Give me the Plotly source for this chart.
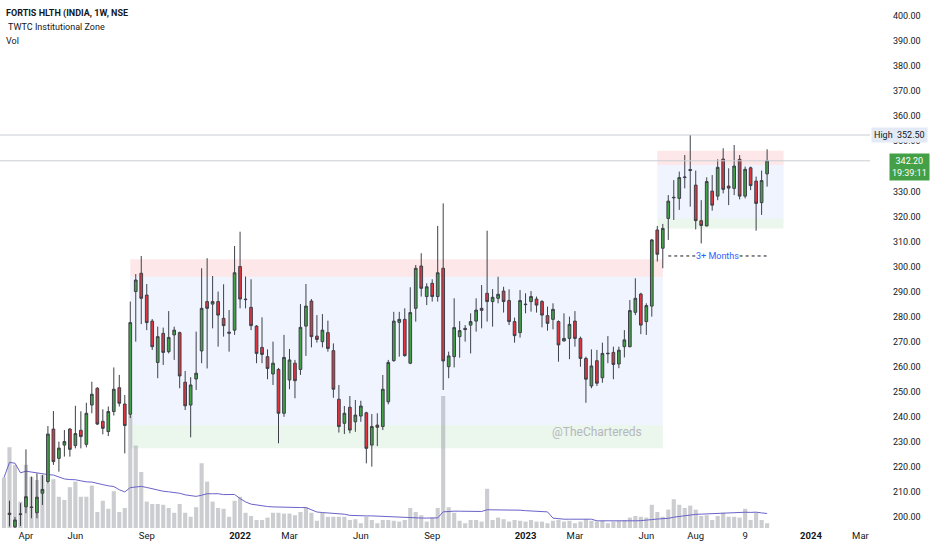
import plotly.graph_objects as go
import pandas as pd

# ---------------- data (weekly candles, FORTIS HLTH, NSE) ----------------
first_week = "2021-03-15"
open_ = [201.5, 196.1, 201.0, 204.1, 204.0, 201.7, 209.5, 214.1, 235.1, 223.4,
         228.7, 235.1, 228.5, 234.6, 229.0, 244.7, 251.4, 238.2, 234.1, 242.1,
         251.6, 245.1, 241.0, 290.0, 297.3, 288.6, 278.2, 261.7, 273.3, 266.0,
         272.7, 273.6, 253.8, 244.7, 255.1, 266.3, 286.0, 285.0, 286.0, 279.3,
         273.8, 274.6, 300.0, 287.0, 283.7, 276.2, 267.7, 264.0, 257.1, 258.9,
         241.4, 254.7, 261.4, 258.9, 276.2, 286.2, 272.2, 270.0, 273.6, 266.4,
         247.0, 237.4, 243.8, 238.0, 240.3, 241.6, 228.7, 236.7, 236.1, 246.0,
         262.4, 277.7, 278.9, 261.4, 283.3, 300.2, 288.0, 293.3, 288.0, 299.3,
         260.0, 264.0, 272.0, 275.3, 276.6, 278.2, 283.3, 289.3, 286.0, 287.3,
         290.2, 286.4, 278.0, 273.6, 285.0, 286.0, 287.0, 286.0, 280.4, 278.9,
         278.0, 270.3, 271.3, 278.2, 271.3, 263.3, 252.3, 262.4, 255.6, 265.4,
         265.7, 261.1, 268.0, 268.0, 281.7, 289.0, 278.0, 284.2, 314.6, 307.3,
         319.2, 327.4, 327.2, 335.5, 338.3, 332.5, 318.3, 316.2, 330.1, 328.1,
         342.9, 332.1, 331.2, 342.8, 328.1, 339.4, 334.1, 325.5, 337.0]
high = [206.5, 200.0, 205.5, 227.0, 216.1, 217.4, 216.8, 236.3, 242.3, 230.1,
        234.7, 235.5, 244.4, 242.2, 245.6, 254.0, 251.8, 243.0, 244.1, 259.7,
        256.7, 248.7, 286.0, 297.0, 304.2, 293.0, 279.0, 276.0, 275.6, 282.2,
        276.0, 274.0, 258.3, 255.8, 274.0, 299.3, 303.3, 296.2, 290.0, 292.9,
        282.6, 308.2, 313.9, 296.0, 294.9, 276.6, 279.7, 266.9, 270.0, 259.5,
        272.7, 267.1, 262.7, 285.0, 293.0, 287.0, 280.6, 281.0, 278.4, 269.3,
        252.7, 244.3, 248.3, 246.7, 246.4, 242.0, 241.1, 241.4, 256.7, 262.7,
        281.9, 281.9, 283.3, 291.7, 300.6, 305.3, 293.3, 294.9, 316.2, 325.2,
        266.0, 287.3, 278.2, 276.6, 281.3, 287.3, 292.6, 314.3, 291.0, 295.9,
        291.9, 290.9, 279.6, 290.6, 289.3, 290.2, 288.0, 286.6, 284.0, 285.3,
        278.5, 281.3, 280.0, 282.2, 272.0, 264.0, 266.9, 266.7, 269.6, 272.2,
        268.0, 268.0, 274.6, 286.6, 295.3, 289.5, 285.3, 311.0, 316.2, 317.0,
        328.5, 334.5, 337.9, 344.5, 352.5, 338.3, 326.5, 335.6, 336.5, 342.8,
        347.2, 339.2, 348.5, 344.5, 339.9, 339.9, 335.9, 338.3, 346.8]
low = [196.2, 195.5, 196.4, 201.5, 199.5, 199.5, 204.8, 213.4, 220.8, 218.1,
       224.1, 224.1, 227.4, 227.4, 227.8, 241.4, 236.7, 233.0, 232.3, 240.5,
       244.1, 225.4, 239.5, 270.0, 277.0, 274.6, 266.7, 255.4, 260.7, 265.3,
       262.7, 251.4, 242.7, 231.8, 250.7, 261.4, 259.3, 275.3, 268.0, 272.0,
       266.0, 272.7, 283.3, 283.3, 274.6, 261.4, 261.4, 255.0, 252.7, 229.4,
       240.0, 251.0, 247.4, 256.7, 264.3, 267.7, 269.6, 267.7, 266.0, 247.6,
       233.7, 233.1, 233.4, 234.0, 238.0, 221.4, 220.1, 228.3, 234.7, 245.0,
       262.0, 264.0, 264.0, 261.0, 278.0, 288.0, 284.6, 286.0, 286.0, 250.7,
       255.4, 259.7, 263.6, 270.0, 265.3, 274.0, 275.3, 278.0, 276.0, 285.3,
       281.6, 276.6, 269.6, 271.6, 281.3, 282.0, 281.6, 275.7, 274.4, 274.9,
       262.0, 270.0, 263.0, 268.0, 260.0, 245.6, 251.4, 252.3, 253.6, 261.4,
       255.0, 259.4, 263.7, 267.7, 280.6, 273.0, 272.7, 280.0, 302.0, 299.3,
       310.6, 318.6, 322.6, 331.2, 323.9, 314.8, 309.2, 316.0, 322.3, 326.5,
       329.2, 324.5, 328.5, 326.8, 327.2, 330.5, 314.3, 320.6, 331.9]
close = [201.0, 198.8, 201.2, 208.1, 203.8, 207.9, 211.0, 233.1, 222.1, 227.5,
         230.1, 227.0, 233.3, 232.1, 241.4, 249.0, 237.1, 235.4, 242.1, 251.0,
         245.4, 236.5, 277.6, 294.6, 287.3, 277.6, 268.0, 272.0, 265.7, 271.7,
         274.6, 256.3, 244.4, 252.7, 257.4, 283.3, 283.3, 286.0, 280.6, 276.4,
         273.4, 297.5, 287.0, 286.8, 276.4, 265.3, 264.9, 259.3, 261.4, 241.4,
         263.7, 262.7, 254.4, 275.7, 284.2, 272.0, 270.9, 274.6, 267.3, 251.0,
         236.1, 241.4, 234.7, 240.7, 244.3, 227.4, 236.1, 235.8, 251.0, 261.7,
         278.2, 278.9, 264.4, 281.6, 299.3, 291.3, 291.9, 288.0, 297.5, 262.3,
         264.3, 275.6, 274.4, 274.8, 278.0, 282.6, 282.5, 286.0, 287.7, 288.9,
         286.0, 278.0, 272.4, 286.4, 284.8, 288.0, 284.6, 280.6, 277.3, 282.9,
         268.7, 271.3, 276.9, 271.3, 263.3, 255.0, 260.3, 253.4, 265.3, 265.2,
         260.9, 266.6, 270.7, 282.4, 287.3, 276.6, 284.4, 310.6, 304.9, 315.2,
         326.1, 327.6, 335.5, 335.7, 338.7, 318.3, 316.4, 333.9, 324.5, 339.6,
         330.8, 331.3, 340.1, 328.1, 338.8, 332.3, 325.2, 334.3, 342.2]

# weekly volume (millions), starting one week before the first visible candle
vol_first_week = "2021-03-08"
volume = [6.3, 10.1, 7.9, 3.3, 7.9, 6.4, 6.0, 6.6, 5.6, 6.1,
          3.9, 3.5, 5.1, 5.8, 3.9, 3.9, 5.3, 2.0, 3.4, 2.4,
          4.6, 2.0, 2.5, 14.1, 10.3, 7.0, 3.3, 3.0, 3.0, 2.9,
          2.5, 1.9, 3.0, 1.9, 1.4, 2.6, 8.1, 5.8, 3.3, 2.5,
          2.4, 1.4, 3.4, 3.9, 1.9, 1.5, 1.0, 1.0, 1.3, 1.9,
          1.9, 1.8, 1.8, 1.6, 2.0, 2.6, 1.9, 0.9, 1.9, 1.4,
          1.4, 1.4, 1.4, 1.0, 1.1, 0.6, 1.4, 1.0, 0.6, 1.0,
          1.0, 0.9, 0.8, 1.0, 2.5, 2.0, 1.6, 0.8, 1.3, 2.5,
          16.5, 2.6, 1.9, 0.9, 0.6, 1.0, 1.0, 0.8, 4.9, 1.0,
          1.3, 1.1, 0.8, 1.0, 0.9, 0.8, 1.0, 0.8, 0.8, 0.6,
          0.9, 1.0, 0.8, 0.9, 0.6, 0.8, 1.1, 0.9, 0.8, 0.9,
          0.6, 0.8, 0.9, 1.0, 1.3, 1.5, 1.4, 1.3, 2.9, 2.0,
          1.4, 2.3, 3.6, 2.9, 2.5, 2.8, 2.3, 1.5, 1.6, 1.0,
          1.5, 1.9, 1.4, 1.4, 1.3, 2.4, 1.0, 1.9, 1.0, 0.6]

# x-axis tick labels
tick_dates = ["2021-04-05", "2021-06-07", "2021-09-06", "2022-01-03", "2022-03-07",
              "2022-06-06", "2022-09-05", "2023-01-02", "2023-03-06", "2023-06-05",
              "2023-08-07", "2023-10-09", "2024-01-01", "2024-03-04"]
tick_text = ["Apr", "Jun", "Sep", "<b>2022</b>", "Mar", "Jun", "Sep", "<b>2023</b>",
             "Mar", "Jun", "Aug", "9", "<b>2024</b>", "Mar"]
price_ticks = list(range(200, 401, 10))
hidden_price_ticks = [340]   # covered by the last-price label in the reference

# institutional zones: (start, end, supply_top, supply_bottom, demand_top, demand_bottom)
zones = [
    ("2021-08-16", "2023-06-26", 302.9, 295.9, 236.7, 227.4),
    ("2023-06-19", "2023-11-27", 346.2, 340.5, 319.2, 315.2),
]
period_high = 352.5
last_price = 342.2

# ---------------- figure ----------------
FONT = "Roboto, Liberation Sans, sans-serif"
GREEN = "#43a047"
RED = "#e0343f"
EDGE = "#3d4048"

dates = pd.date_range(first_week, periods=len(open_), freq="7D")
vol_dates = pd.date_range(vol_first_week, periods=len(volume), freq="7D")
vol_ma = pd.Series(volume).rolling(20, min_periods=1).mean()

fig = go.Figure()
fig.add_trace(go.Bar(x=vol_dates, y=volume, yaxis="y",
                     marker=dict(color="rgba(168,171,178,0.6)", line=dict(width=0)),
                     hoverinfo="skip"))
fig.add_trace(go.Scatter(x=vol_dates, y=vol_ma, yaxis="y", mode="lines",
                         line=dict(color="#6a62c8", width=1), hoverinfo="skip"))
fig.add_trace(go.Candlestick(
    x=dates, open=open_, high=high, low=low, close=close, yaxis="y2",
    increasing=dict(fillcolor=GREEN, line=dict(color=EDGE, width=1)),
    decreasing=dict(fillcolor=RED, line=dict(color=EDGE, width=1)),
    whiskerwidth=0,
))

shapes = []
for (x0, x1, st, sb, dt, db) in zones:
    shapes.append(dict(type="rect", xref="x", yref="y2", x0=x0, x1=x1, y0=sb, y1=st,
                       fillcolor="rgba(242,54,69,0.12)", line=dict(width=0), layer="below"))
    shapes.append(dict(type="rect", xref="x", yref="y2", x0=x0, x1=x1, y0=dt, y1=sb,
                       fillcolor="rgba(41,98,255,0.07)", line=dict(width=0), layer="below"))
    shapes.append(dict(type="rect", xref="x", yref="y2", x0=x0, x1=x1, y0=db, y1=dt,
                       fillcolor="rgba(76,175,80,0.11)", line=dict(width=0), layer="below"))
for yv in (period_high, last_price):
    shapes.append(dict(type="line", xref="paper", yref="y2", x0=0, x1=1, y0=yv, y1=yv,
                       line=dict(color="#c9ccd2", width=1)))
months_y = 304.2
shapes.append(dict(type="line", xref="x", yref="y2", x0="2023-07-03", x1="2023-08-08",
                   y0=months_y, y1=months_y, line=dict(color="#131722", width=1, dash="dot")))
shapes.append(dict(type="line", xref="x", yref="y2", x0="2023-10-02", x1="2023-11-06",
                   y0=months_y, y1=months_y, line=dict(color="#131722", width=1, dash="dot")))

PW = 870.0   # plot width in px
PH = 528.0   # plot height in px
TXT = "#131722"
annotations = [
    dict(text="<b>FORTIS HLTH (INDIA, 1W, NSE</b>", x=4 / PW, y=1 - 13 / PH, xref="paper", yref="paper",
         xanchor="left", yanchor="middle", showarrow=False, font=dict(family=FONT, size=9, color=TXT)),
    dict(text=" TWTC Institutional Zone", x=4 / PW, y=1 - 27 / PH, xref="paper", yref="paper",
         xanchor="left", yanchor="middle", showarrow=False, font=dict(family=FONT, size=9, color=TXT)),
    dict(text="Vol", x=4 / PW, y=1 - 41 / PH, xref="paper", yref="paper",
         xanchor="left", yanchor="middle", showarrow=False, font=dict(family=FONT, size=9, color=TXT)),
    dict(text="3+ Months", x="2023-09-04", y=months_y, xref="x", yref="y2", showarrow=False,
         font=dict(family=FONT, size=9, color="#2962ff")),
    dict(text="@TheChartereds", x="2023-04-03", y=233.9, xref="x", yref="y2", showarrow=False,
         font=dict(family=FONT, size=12, color="#b4b7be")),
    dict(text="High", x=871 / PW, y=period_high, xref="paper", yref="y2",
         xanchor="left", yanchor="middle", showarrow=False, bgcolor="#e3eaf5", borderpad=2,
         font=dict(family=FONT, size=9, color=TXT)),
    dict(text=f"{period_high:.2f}", x=894 / PW, y=period_high, xref="paper", yref="y2",
         xanchor="left", yanchor="middle", showarrow=False, bgcolor="#e3eaf5", borderpad=2,
         font=dict(family=FONT, size=9, color=TXT)),
    dict(text=f"{last_price:.2f}<br>19:39:11", x=909 / PW, y=last_price, xref="paper", yref="y2",
         xanchor="center", yanchor="top", yshift=8, showarrow=False, bgcolor=GREEN, borderpad=2,
         font=dict(family=FONT, size=9, color="white")),
]

fig.update_layout(
    width=932, height=550,
    margin=dict(l=0, r=62, t=0, b=22),
    paper_bgcolor="white", plot_bgcolor="white",
    showlegend=False, bargap=0.25,
    shapes=shapes, annotations=annotations,
    font=dict(family=FONT, size=9, color=TXT),
    xaxis=dict(type="date", range=["2021-03-02 21:36", "2024-03-16 05:00"],
               rangeslider=dict(visible=False), showgrid=False, zeroline=False,
               tickvals=tick_dates, ticktext=tick_text, tickfont=dict(size=9.5),
               showline=False, ticks=""),
    yaxis=dict(range=[0, 66], visible=False, fixedrange=True),
    yaxis2=dict(overlaying="y", side="right", range=[195.6, 406.4], showgrid=False,
                zeroline=False, tickvals=price_ticks,
                ticktext=["" if v in hidden_price_ticks else f"{v:.2f}" for v in price_ticks],
                tickfont=dict(size=9), ticklabelstandoff=22, ticks=""),
)

fig.write_html("out.html", config={"displayModeBar": False},
               post_script="document.body.style.margin='0';")
